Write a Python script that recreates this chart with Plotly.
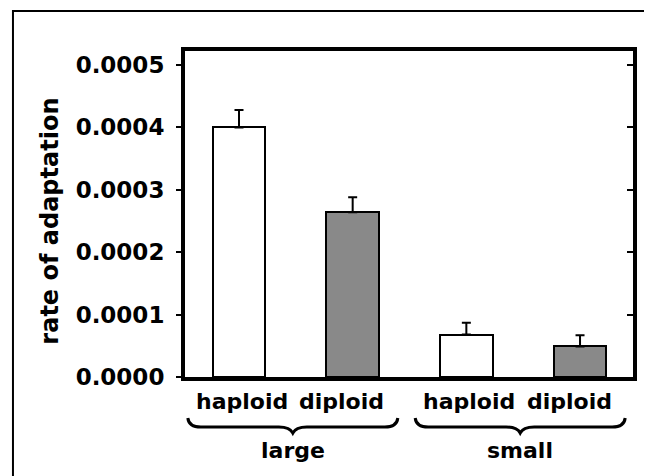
import plotly.graph_objects as go

# ---- data ----
categories = ["haploid", "diploid", "haploid", "diploid"]
groups = ["large", "small"]
rates = [0.000400, 0.000264, 0.000068, 0.000049]
errors = [0.000028, 0.000024, 0.000019, 0.000018]
bar_colors = ["#ffffff", "#898989", "#ffffff", "#898989"]
y_ticks = [0.0000, 0.0001, 0.0002, 0.0003, 0.0004, 0.0005]
y_title = "rate of adaptation"

positions = list(range(len(categories)))
yr = [0, 0.0005224]
xr = [-0.475, 3.466]

FONT = "DejaVu Sans"

fig = go.Figure()
fig.add_trace(go.Bar(
    x=positions, y=rates, width=0.465,
    marker=dict(color=bar_colors, line=dict(color="black", width=2)),
    error_y=dict(type="data", array=errors, arrayminus=[0] * len(errors),
                 symmetric=False, color="black", thickness=2, width=4.5),
    showlegend=False, hoverinfo="skip",
))
# invisible trace to carry the right-hand (inward ticks) axis
fig.add_trace(go.Scatter(x=[positions[0]], y=[rates[0]], yaxis="y2",
                         mode="markers", marker=dict(opacity=0),
                         showlegend=False, hoverinfo="skip"))

# category labels under bars
shifts = {"haploid": 3, "diploid": -11}
for p, c in zip(positions, categories):
    fig.add_annotation(x=p, y=0, xref="x", yref="paper", text=c,
                       showarrow=False, yanchor="middle", xanchor="center",
                       yshift=-24, xshift=shifts[c],
                       font=dict(family=FONT, size=22, color="black", weight="bold"))

# group labels and braces
n_per = len(categories) // len(groups)
for gi, g in enumerate(groups):
    members = positions[gi * n_per:(gi + 1) * n_per]
    cx = sum(members) / len(members)
    fig.add_annotation(x=cx, y=0, xref="x", yref="paper", text=g,
                       showarrow=False, yanchor="middle", xanchor="center",
                       yshift=-73, xshift=-3,
                       font=dict(family=FONT, size=22, color="black", weight="bold"))
    path = ("M -108,-41 Q -107,-50 -95,-50 L -17,-50 Q -6,-50 -3,-56 "
            "Q 0,-50 11,-50 L 89,-50 Q 101,-50 102,-41")
    fig.add_shape(type="path", xref="x", yref="paper",
                  xsizemode="pixel", ysizemode="pixel",
                  xanchor=cx, yanchor=0, path=path,
                  line=dict(color="black", width=3))

# y-axis title
fig.add_annotation(x=-0.301, y=0.477, xref="paper", yref="paper", text=y_title,
                   textangle=-90, showarrow=False, xanchor="center", yanchor="middle",
                   font=dict(family=FONT, size=24, color="black", weight="bold"))

# outer frame (only left & top edges visible in the picture)
fig.add_shape(type="rect", xref="paper", yref="paper",
              x0=-0.384, x1=1.3, y0=-0.6, y1=1.1227,
              line=dict(color="black", width=2), layer="below")

fig.update_layout(
    width=652, height=476,
    # page body has an 8px default margin; margins compensate for it
    margin=dict(l=177, r=27, t=43, b=107, pad=0),
    paper_bgcolor="white", plot_bgcolor="white",
    bargap=0,
    xaxis=dict(range=xr, showgrid=False, zeroline=False, showticklabels=False,
               ticks="", showline=True, linecolor="black", linewidth=4, mirror=True,
               fixedrange=True),
    yaxis=dict(range=yr, tickvals=y_ticks, tickformat=".4f", showgrid=False,
               zeroline=False, ticks="outside", ticklen=5, tickwidth=2,
               tickcolor="black", showline=True, linecolor="black", linewidth=4,
               mirror=True, ticklabelstandoff=7,
               tickfont=dict(family=FONT, size=23, color="black", weight="bold")),
    yaxis2=dict(range=yr, tickvals=y_ticks, overlaying="y", side="right",
                showgrid=False, zeroline=False, ticks="inside", ticklen=6,
                tickwidth=2, tickcolor="black", showticklabels=False, showline=False),
)

fig.write_html("out.html")
